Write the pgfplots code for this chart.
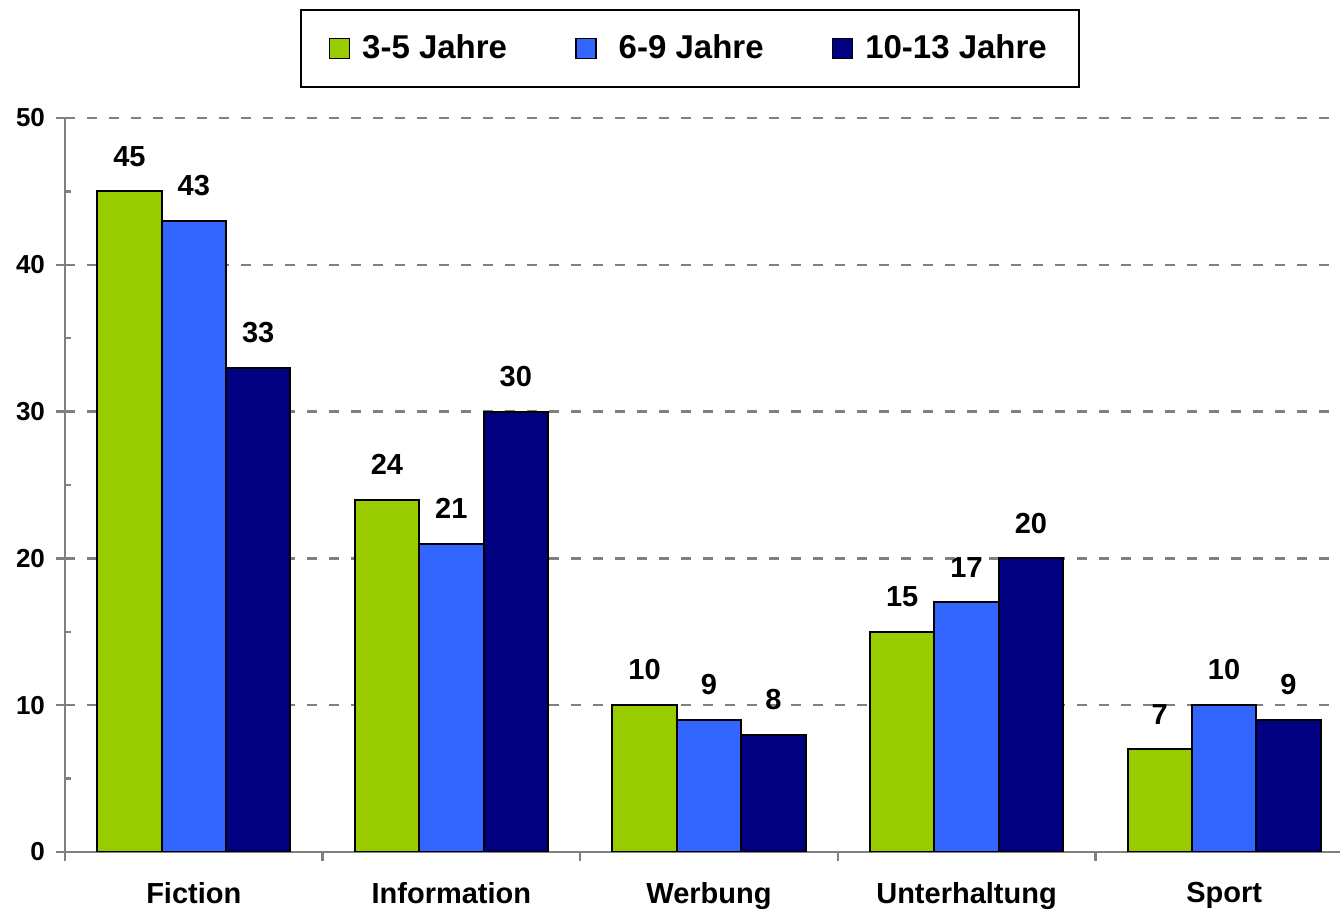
\documentclass[border=0pt]{standalone}
\usepackage{fontspec}
\setmainfont{Liberation Sans}
\usepackage{pgfplots}
\pgfplotsset{compat=1.18}
\definecolor{cgreen}{HTML}{99CC00}
\definecolor{cblue}{HTML}{3366FF}
\definecolor{cnavy}{HTML}{000080}
\definecolor{axgray}{HTML}{808080}
\begin{document}
\begin{tikzpicture}
\begin{axis}[
  name=ax,
  scale only axis,
  width=637.5pt, height=367pt,
  xmin=-0.5, xmax=4.45,
  ymin=0, ymax=50,
  axis lines*=left,
  axis line style={axgray, line width=1.3pt},
  every tick/.style={axgray, line width=1.2pt},
  tick align=outside,
  major tick length=4.5pt,
  xtick={-0.5,0.5,1.5,2.5,3.5},
  xticklabels={Fiction,Information,Werbung,Unterhaltung,Sport},
  xticklabel style={font=\fontsize{14.5}{16}\selectfont\bfseries, xshift=64.4pt, yshift=-7pt},
  ytick={0,10,20,30,40,50},
  yticklabel style={font=\fontsize{13}{15}\selectfont\bfseries, xshift=-2pt},
  /pgf/number format/assume math mode=true,
  extra y ticks={5,15,25,35,45},
  extra y tick labels={},
  extra y tick style={tick align=inside, major tick length=3pt, ymajorgrids=false},
  ymajorgrids,
  grid style={axgray, line width=1.2pt, dash pattern=on 5pt off 6pt},
  ybar=0pt,
  bar width=0.25,
  every axis plot/.append style={draw=black, line width=1pt},
  nodes near coords,
  every node near coord/.append style={font=\fontsize{14.5}{16}\selectfont\bfseries, text=black, inner sep=0pt, anchor=south, yshift=12pt},
  legend columns=3,
  legend style={
    at={(0.49,1)}, anchor=south, yshift=15pt,
    draw=black, line width=1pt,
    font=\fontsize{16.5}{18}\selectfont\bfseries,
    inner xsep=14pt, inner ysep=10.5pt,
    /tikz/every odd column/.append style={column sep=4pt},
    /tikz/every even column/.append style={column sep=32pt},
  },
  legend image code/.code={\draw[#1, line width=0.8pt] (0pt,-5pt) rectangle (10pt,5pt);},
]
\addplot[fill=cgreen, bar shift=-0.25] coordinates {(0,45) (1,24) (2,10) (3,15) (4,7)};
\addplot[fill=cblue, bar shift=0] coordinates {(0,43) (1,21) (2,9) (3,17) (4,10)};
\addplot[fill=cnavy, bar shift=0.25] coordinates {(0,33) (1,30) (2,8) (3,20) (4,9)};
\legend{3-5 Jahre,\hspace{5pt}6-9 Jahre,10-13 Jahre}
\end{axis}
\pgfresetboundingbox
\path ([shift={(-32.5pt,-28.5pt)}]ax.south west) rectangle ([shift={(0pt,59pt)}]ax.north east);
\end{tikzpicture}
\end{document}
